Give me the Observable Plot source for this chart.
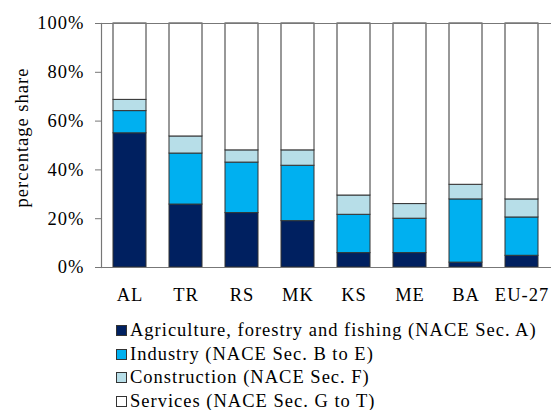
<!DOCTYPE html>
<html>
<head>
<meta charset="utf-8">
<script src="https://cdn.jsdelivr.net/npm/d3@7"></script>
<script src="https://cdn.jsdelivr.net/npm/@observablehq/plot@0.6"></script>
<style>
  html, body { margin: 0; padding: 0; background: #fff; }
  #chart svg { display: block; }
  #chart svg text { font-family: 'Liberation Serif', 'Times New Roman', serif !important; font-size: 18.5px !important; letter-spacing: 1px; }
  .legend { font-family: 'Liberation Serif', 'Times New Roman', serif; font-size: 18.5px; letter-spacing: 1px; color: #000; padding-left: 116px; margin-top: 9px; }
  .legend div { height: 23.5px; line-height: 23.5px; white-space: nowrap; display: flex; align-items: center; }
  .legend span.sw { display: inline-block; width: 9px; height: 9px; border: 1px solid #333; margin-right: 3px; }
</style>
</head>
<body>
<div id="chart"></div>
<div class="legend" id="legend"></div>
<script>
const countries = ["AL", "TR", "RS", "MK", "KS", "ME", "BA", "EU-27"];
const sectors = [
  "Agriculture, forestry and fishing (NACE Sec. A)",
  "Industry (NACE Sec. B to E)",
  "Construction (NACE Sec. F)",
  "Services (NACE Sec. G to T)"
];
const colors = ["#002060", "#00B0F0", "#B7DEE8", "#FFFFFF"];
const agriculture  = [55.0, 25.8, 22.3, 19.0, 5.9, 5.9, 2.0, 4.8];
const industry     = [9.1, 20.9, 20.7, 22.7, 15.7, 14.1, 25.9, 15.7];
const construction = [4.6, 7.0, 5.0, 6.3, 7.9, 6.0, 6.0, 7.4];
const services     = [31.3, 46.3, 52.0, 52.0, 70.5, 74.0, 66.1, 72.1];
const yTicks = [0, 20, 40, 60, 80, 100];

const series = [agriculture, industry, construction, services];
const data = [];
countries.forEach((c, i) => {
  series.forEach((s, j) => data.push({country: c, sector: sectors[j], value: s[i]}));
});

const chart = Plot.plot({
  width: 555,
  height: 310,
  marginTop: 23,
  marginBottom: 43,
  marginLeft: 101,
  marginRight: 4,
  style: {fontFamily: "'Liberation Serif', serif", fontSize: "18.5px", color: "#000", background: "#fff"},
  x: {domain: countries, paddingInner: 0.41, paddingOuter: 0.205, label: null},
  y: {domain: [0, 100], label: null},
  color: {domain: sectors, range: colors},
  marks: [
    Plot.barY(data, {x: "country", y: "value", fill: "sector", order: sectors, stroke: "#333", strokeWidth: 1}),
    Plot.ruleY([0, 100], {stroke: "#777", strokeWidth: 1.2}),
    Plot.frame({anchor: "left", stroke: "#777", strokeWidth: 1.2}),
    Plot.axisY(yTicks, {tickSize: 6, tickPadding: 11, tickFormat: d => d + "%", stroke: "#777", fontSize: 18.5, label: null}),
    Plot.axisX({tickSize: 0, tickPadding: 20, fontSize: 18.5, label: null}),
    Plot.text(["percentage share"], {frameAnchor: "left", dx: -79, dy: -8, rotate: -90, textAnchor: "middle", fontSize: 18.5})
  ]
});
document.getElementById("chart").appendChild(chart);

const legend = document.getElementById("legend");
sectors.forEach((s, i) => {
  const row = document.createElement("div");
  const sw = document.createElement("span");
  sw.className = "sw";
  sw.style.background = colors[i];
  row.appendChild(sw);
  row.appendChild(document.createTextNode(s));
  legend.appendChild(row);
});
</script>
</body>
</html>
